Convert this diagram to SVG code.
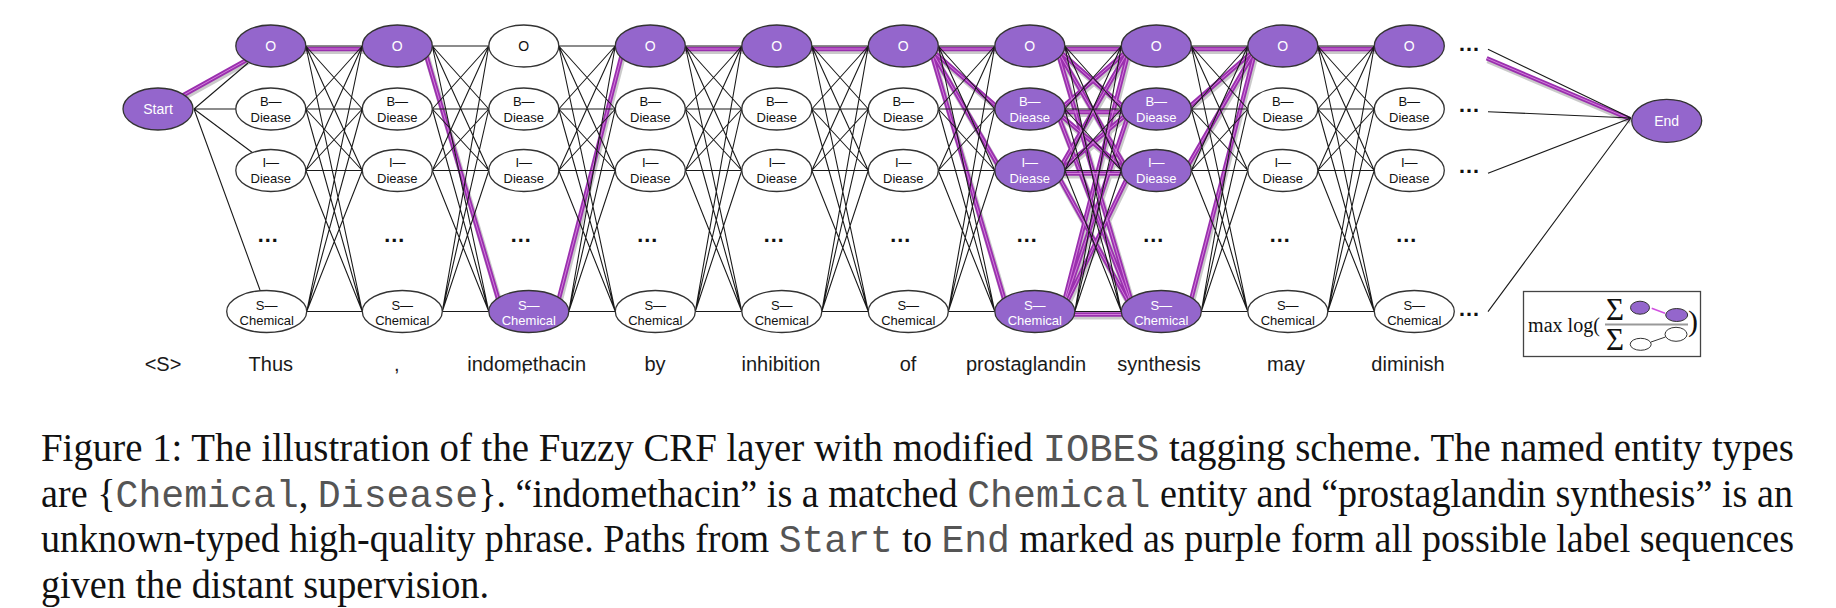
<svg xmlns="http://www.w3.org/2000/svg" xmlns:xlink="http://www.w3.org/1999/xlink" width="1836" height="608" viewBox="0 0 1836 608">
<style>
.n ellipse{fill:#fff;stroke:#333;stroke-width:1.3}
.p ellipse{fill:#9466cc;stroke:#333;stroke-width:1.3}
.n text{fill:#111}
.p text{fill:#fff}
text.l{font-family:'Liberation Sans',Arial,sans-serif;font-size:13px;text-anchor:middle}
text.o{font-family:'Liberation Sans',Arial,sans-serif;font-size:14px;text-anchor:middle}
text.d{font-family:'Liberation Sans',Arial,sans-serif;font-size:22px;font-weight:bold;text-anchor:middle;fill:#111}
text.w{font-family:'Liberation Sans',Arial,sans-serif;font-size:20px;text-anchor:middle;fill:#1a1a1a}
text.cap{font-family:'Liberation Serif','Times New Roman',serif;font-size:39px;fill:#111}
tspan.m{font-family:'Liberation Mono','Courier New',monospace;fill:#555}
.blk{fill:none;stroke:#1a1a1a;stroke-width:1.1}
.psh{fill:none;stroke:#8a8a8a;stroke-width:6;opacity:.45}
.pm{fill:none;stroke:#9a30ae;stroke-width:4.5}
.phl{fill:none;stroke:#d37ddc;stroke-width:1}
</style>
<defs>
<path id="gap" d="M35 46H91.5M35 46L91.5 109M35 46L91.5 170.5M35 46L91.5 311.5M35 109L91.5 46M35 109H91.5M35 109L91.5 170.5M35 109L91.5 311.5M35 170.5L91.5 46M35 170.5L91.5 109M35 170.5H91.5M35 170.5L91.5 311.5M45 311.5L91.5 46M45 311.5L91.5 109M45 311.5L91.5 170.5M45 311.5H91.5"/>
<path id="pp" d="M180 97L252 57M297.8 49H370.3M424.3 49L502.8 314.5M554.8 314.5L623.3 49M677.3 49H749.8M803.8 49H876.3M930.3 49H1002.8M930.3 49L1002.8 112M930.3 49L1002.8 173.5M930.3 49L1008.8 314.5M1056.8 49H1129.3M1056.8 49L1129.3 112M1056.8 49L1129.3 173.5M1056.8 49L1135.3 314.5M1056.8 112L1129.3 49M1056.8 112H1129.3M1056.8 112L1129.3 173.5M1056.8 112L1135.3 314.5M1056.8 173.5L1129.3 49M1056.8 173.5L1129.3 112M1056.8 173.5H1129.3M1056.8 173.5L1135.3 314.5M1060.8 314.5L1129.3 49M1060.8 314.5L1129.3 112M1060.8 314.5L1129.3 173.5M1060.8 314.5H1135.3M1183.3 49H1255.8M1183.3 112L1255.8 49M1183.3 173.5L1255.8 49M1187.3 314.5L1255.8 49M1309.8 49H1382.3M1486.7 58.3L1630 119"/>
</defs>
<rect width="1836" height="608" fill="#fff"/>
<g id="connectors">
<g id="purple-paths">
<use xlink:href="#pp" class="psh" transform="translate(1,2)"/>
<use xlink:href="#pp" class="pm"/>
<use xlink:href="#pp" class="phl"/>
</g>
<g id="edges">
<path class="blk" d="M194 109L248 63M194 109H236M194 109L253.3 153.3M194 109L260 290"/>
<path class="blk" transform="translate(270.8,0)" d="M35 46H91.5M35 46L91.5 109M35 46L91.5 170.5M35 46L91.5 311.5M35 109L91.5 46M35 109H91.5M35 109L91.5 170.5M35 109L91.5 311.5M35 170.5L91.5 46M35 170.5L91.5 109M35 170.5H91.5M35 170.5L91.5 311.5M35.9 311.5L91.5 46M35.9 311.5L91.5 109M35.9 311.5L91.5 170.5M35.9 311.5H91.5"/>
<use xlink:href="#gap" class="blk" transform="translate(397.3,0)"/>
<use xlink:href="#gap" class="blk" transform="translate(523.8,0)"/>
<use xlink:href="#gap" class="blk" transform="translate(650.3,0)"/>
<use xlink:href="#gap" class="blk" transform="translate(776.8,0)"/>
<use xlink:href="#gap" class="blk" transform="translate(903.3,0)"/>
<use xlink:href="#gap" class="blk" transform="translate(1029.8,0)"/>
<use xlink:href="#gap" class="blk" transform="translate(1156.3,0)"/>
<use xlink:href="#gap" class="blk" transform="translate(1282.8,0)"/>
<path class="blk" d="M1488 49.3L1631 118M1488 111.7L1631 118M1488 173.3L1631 118M1488 311.7L1631 118"/>
</g>
</g>
<g id="start" class="p"><ellipse cx="158" cy="109" rx="35" ry="21"/><text class="o" x="158" y="114">Start</text></g>
<g id="end" class="p"><ellipse cx="1666.7" cy="120.8" rx="35" ry="21.5"/><text class="o" x="1666.7" y="125.5">End</text></g>

<g id="c1-O" class="p"><ellipse cx="270.8" cy="46" rx="35" ry="21"/><text class="o" x="270.8" y="51">O</text></g>
<g id="c1-B" class="n"><ellipse cx="270.8" cy="109" rx="35" ry="21"/><text class="l" x="270.8" y="105.7">B—</text><text class="l" x="270.8" y="121.5">Diease</text></g>
<g id="c1-I" class="n"><ellipse cx="270.8" cy="170.5" rx="35" ry="21"/><text class="l" x="270.8" y="167.2">I—</text><text class="l" x="270.8" y="183">Diease</text></g>
<g id="c1-S" class="n"><ellipse cx="266.7" cy="311.5" rx="40" ry="21"/><text class="l" x="266.7" y="309.5">S—</text><text class="l" x="266.7" y="324.5">Chemical</text></g>

<g id="c2-O" class="p"><ellipse cx="397.3" cy="46" rx="35" ry="21"/><text class="o" x="397.3" y="51">O</text></g>
<g id="c2-B" class="n"><ellipse cx="397.3" cy="109" rx="35" ry="21"/><text class="l" x="397.3" y="105.7">B—</text><text class="l" x="397.3" y="121.5">Diease</text></g>
<g id="c2-I" class="n"><ellipse cx="397.3" cy="170.5" rx="35" ry="21"/><text class="l" x="397.3" y="167.2">I—</text><text class="l" x="397.3" y="183">Diease</text></g>
<g id="c2-S" class="n"><ellipse cx="402.3" cy="311.5" rx="40" ry="21"/><text class="l" x="402.3" y="309.5">S—</text><text class="l" x="402.3" y="324.5">Chemical</text></g>

<g id="c3-O" class="n"><ellipse cx="523.8" cy="46" rx="35" ry="21"/><text class="o" x="523.8" y="51">O</text></g>
<g id="c3-B" class="n"><ellipse cx="523.8" cy="109" rx="35" ry="21"/><text class="l" x="523.8" y="105.7">B—</text><text class="l" x="523.8" y="121.5">Diease</text></g>
<g id="c3-I" class="n"><ellipse cx="523.8" cy="170.5" rx="35" ry="21"/><text class="l" x="523.8" y="167.2">I—</text><text class="l" x="523.8" y="183">Diease</text></g>
<g id="c3-S" class="p"><ellipse cx="528.8" cy="311.5" rx="40" ry="21"/><text class="l" x="528.8" y="309.5">S—</text><text class="l" x="528.8" y="324.5">Chemical</text></g>

<g id="c4-O" class="p"><ellipse cx="650.3" cy="46" rx="35" ry="21"/><text class="o" x="650.3" y="51">O</text></g>
<g id="c4-B" class="n"><ellipse cx="650.3" cy="109" rx="35" ry="21"/><text class="l" x="650.3" y="105.7">B—</text><text class="l" x="650.3" y="121.5">Diease</text></g>
<g id="c4-I" class="n"><ellipse cx="650.3" cy="170.5" rx="35" ry="21"/><text class="l" x="650.3" y="167.2">I—</text><text class="l" x="650.3" y="183">Diease</text></g>
<g id="c4-S" class="n"><ellipse cx="655.3" cy="311.5" rx="40" ry="21"/><text class="l" x="655.3" y="309.5">S—</text><text class="l" x="655.3" y="324.5">Chemical</text></g>

<g id="c5-O" class="p"><ellipse cx="776.8" cy="46" rx="35" ry="21"/><text class="o" x="776.8" y="51">O</text></g>
<g id="c5-B" class="n"><ellipse cx="776.8" cy="109" rx="35" ry="21"/><text class="l" x="776.8" y="105.7">B—</text><text class="l" x="776.8" y="121.5">Diease</text></g>
<g id="c5-I" class="n"><ellipse cx="776.8" cy="170.5" rx="35" ry="21"/><text class="l" x="776.8" y="167.2">I—</text><text class="l" x="776.8" y="183">Diease</text></g>
<g id="c5-S" class="n"><ellipse cx="781.8" cy="311.5" rx="40" ry="21"/><text class="l" x="781.8" y="309.5">S—</text><text class="l" x="781.8" y="324.5">Chemical</text></g>

<g id="c6-O" class="p"><ellipse cx="903.3" cy="46" rx="35" ry="21"/><text class="o" x="903.3" y="51">O</text></g>
<g id="c6-B" class="n"><ellipse cx="903.3" cy="109" rx="35" ry="21"/><text class="l" x="903.3" y="105.7">B—</text><text class="l" x="903.3" y="121.5">Diease</text></g>
<g id="c6-I" class="n"><ellipse cx="903.3" cy="170.5" rx="35" ry="21"/><text class="l" x="903.3" y="167.2">I—</text><text class="l" x="903.3" y="183">Diease</text></g>
<g id="c6-S" class="n"><ellipse cx="908.3" cy="311.5" rx="40" ry="21"/><text class="l" x="908.3" y="309.5">S—</text><text class="l" x="908.3" y="324.5">Chemical</text></g>

<g id="c7-O" class="p"><ellipse cx="1029.8" cy="46" rx="35" ry="21"/><text class="o" x="1029.8" y="51">O</text></g>
<g id="c7-B" class="p"><ellipse cx="1029.8" cy="109" rx="35" ry="21"/><text class="l" x="1029.8" y="105.7">B—</text><text class="l" x="1029.8" y="121.5">Diease</text></g>
<g id="c7-I" class="p"><ellipse cx="1029.8" cy="170.5" rx="35" ry="21"/><text class="l" x="1029.8" y="167.2">I—</text><text class="l" x="1029.8" y="183">Diease</text></g>
<g id="c7-S" class="p"><ellipse cx="1034.8" cy="311.5" rx="40" ry="21"/><text class="l" x="1034.8" y="309.5">S—</text><text class="l" x="1034.8" y="324.5">Chemical</text></g>

<g id="c8-O" class="p"><ellipse cx="1156.3" cy="46" rx="35" ry="21"/><text class="o" x="1156.3" y="51">O</text></g>
<g id="c8-B" class="p"><ellipse cx="1156.3" cy="109" rx="35" ry="21"/><text class="l" x="1156.3" y="105.7">B—</text><text class="l" x="1156.3" y="121.5">Diease</text></g>
<g id="c8-I" class="p"><ellipse cx="1156.3" cy="170.5" rx="35" ry="21"/><text class="l" x="1156.3" y="167.2">I—</text><text class="l" x="1156.3" y="183">Diease</text></g>
<g id="c8-S" class="p"><ellipse cx="1161.3" cy="311.5" rx="40" ry="21"/><text class="l" x="1161.3" y="309.5">S—</text><text class="l" x="1161.3" y="324.5">Chemical</text></g>

<g id="c9-O" class="p"><ellipse cx="1282.8" cy="46" rx="35" ry="21"/><text class="o" x="1282.8" y="51">O</text></g>
<g id="c9-B" class="n"><ellipse cx="1282.8" cy="109" rx="35" ry="21"/><text class="l" x="1282.8" y="105.7">B—</text><text class="l" x="1282.8" y="121.5">Diease</text></g>
<g id="c9-I" class="n"><ellipse cx="1282.8" cy="170.5" rx="35" ry="21"/><text class="l" x="1282.8" y="167.2">I—</text><text class="l" x="1282.8" y="183">Diease</text></g>
<g id="c9-S" class="n"><ellipse cx="1287.8" cy="311.5" rx="40" ry="21"/><text class="l" x="1287.8" y="309.5">S—</text><text class="l" x="1287.8" y="324.5">Chemical</text></g>

<g id="c10-O" class="p"><ellipse cx="1409.3" cy="46" rx="35" ry="21"/><text class="o" x="1409.3" y="51">O</text></g>
<g id="c10-B" class="n"><ellipse cx="1409.3" cy="109" rx="35" ry="21"/><text class="l" x="1409.3" y="105.7">B—</text><text class="l" x="1409.3" y="121.5">Diease</text></g>
<g id="c10-I" class="n"><ellipse cx="1409.3" cy="170.5" rx="35" ry="21"/><text class="l" x="1409.3" y="167.2">I—</text><text class="l" x="1409.3" y="183">Diease</text></g>
<g id="c10-S" class="n"><ellipse cx="1414.3" cy="311.5" rx="40" ry="21"/><text class="l" x="1414.3" y="309.5">S—</text><text class="l" x="1414.3" y="324.5">Chemical</text></g>

<g id="dots">
<text class="d" x="267.8" y="242">…</text>
<text class="d" x="394.3" y="242">…</text>
<text class="d" x="520.8" y="242">…</text>
<text class="d" x="647.3" y="242">…</text>
<text class="d" x="773.8" y="242">…</text>
<text class="d" x="900.3" y="242">…</text>
<text class="d" x="1026.8" y="242">…</text>
<text class="d" x="1153.3" y="242">…</text>
<text class="d" x="1279.8" y="242">…</text>
<text class="d" x="1406.3" y="242">…</text>
<text class="d" x="1469" y="51">…</text>
<text class="d" x="1469" y="112">…</text>
<text class="d" x="1469" y="173">…</text>
<text class="d" x="1469" y="316">…</text>
</g>

<g id="words">
<text class="w" x="163" y="371">&lt;S&gt;</text>
<text class="w" x="270.8" y="371">Thus</text>
<text class="w" x="396.7" y="371">,</text>
<text class="w" x="526.7" y="371">indomethacin</text>
<text class="w" x="524" y="371">,</text>
<text class="w" x="655" y="371">by</text>
<text class="w" x="781" y="371">inhibition</text>
<text class="w" x="908" y="371">of</text>
<text class="w" x="1026" y="371">prostaglandin</text>
<text class="w" x="1159" y="371">synthesis</text>
<text class="w" x="1286" y="371">may</text>
<text class="w" x="1408" y="371">diminish</text>
</g>

<g id="formula-box">
<rect x="1523.5" y="291.5" width="177" height="65" fill="none" stroke="#444" stroke-width="1.3"/>
<text x="1528" y="332" font-family="'Liberation Serif','Times New Roman',serif" font-size="20" fill="#111" textLength="72" lengthAdjust="spacingAndGlyphs">max log(</text>
<text x="1615" y="320" font-family="'Liberation Serif','Times New Roman',serif" font-size="31" fill="#111" text-anchor="middle">Σ</text>
<text x="1615" y="350" font-family="'Liberation Serif','Times New Roman',serif" font-size="31" fill="#111" text-anchor="middle">Σ</text>
<line x1="1605" y1="324.5" x2="1688" y2="324.5" stroke="#999" stroke-width="2"/>
<line x1="1651.7" y1="308.3" x2="1665" y2="313.3" stroke="#d050e0" stroke-width="1.5"/>
<ellipse cx="1640" cy="307.7" rx="9.5" ry="6.5" fill="#9466cc" stroke="#333" stroke-width="1"/>
<ellipse cx="1676.7" cy="315" rx="11" ry="6.5" fill="#9466cc" stroke="#333" stroke-width="1"/>
<line x1="1651" y1="342" x2="1665.5" y2="337" stroke="#333" stroke-width="1"/>
<ellipse cx="1640.7" cy="344.3" rx="10.5" ry="6" fill="#fff" stroke="#333" stroke-width="1"/>
<ellipse cx="1676" cy="334.3" rx="11" ry="7" fill="#fff" stroke="#333" stroke-width="1"/>
<text x="1688" y="331" font-family="'Liberation Serif','Times New Roman',serif" font-size="30" fill="#111">)</text>
</g>

<g id="caption">
<text class="cap" x="41" y="461" textLength="1753" lengthAdjust="spacingAndGlyphs">Figure 1: The illustration of the Fuzzy CRF layer with modified <tspan class="m">IOBES</tspan> tagging scheme. The named entity types</text>
<text class="cap" x="41" y="507" textLength="1752" lengthAdjust="spacingAndGlyphs">are {<tspan class="m">Chemical</tspan>, <tspan class="m">Disease</tspan>}. “indomethacin” is a matched <tspan class="m">Chemical</tspan> entity and “prostaglandin synthesis” is an</text>
<text class="cap" x="41" y="551.5" textLength="1753" lengthAdjust="spacingAndGlyphs">unknown-typed high-quality phrase. Paths from <tspan class="m">Start</tspan> to <tspan class="m">End</tspan> marked as purple form all possible label sequences</text>
<text class="cap" x="41" y="598" textLength="448" lengthAdjust="spacingAndGlyphs">given the distant supervision.</text>
</g>
</svg>
